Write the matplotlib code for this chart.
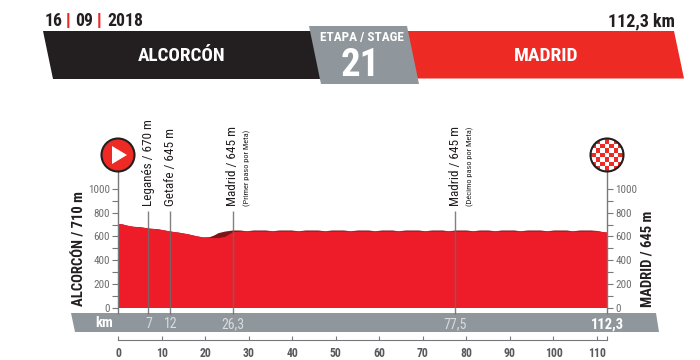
import matplotlib
matplotlib.use("Agg")
import matplotlib.pyplot as plt
from matplotlib.patches import Polygon, Circle

COND = ['Roboto Condensed', 'PT Sans Narrow', 'Liberation Sans', 'DejaVu Sans']
plt.rcParams['font.family'] = COND

# Profile values
km = [0, 1, 2, 3.5, 5, 7, 9, 10.5, 12, 14, 16, 18, 19.5, 21, 22, 23, 24.5, 26.3,
      28, 29.5, 31, 33.9, 35.4, 37, 39.8, 41.4, 43, 45.9, 47.5, 49, 51.8, 53.3, 55, 57.5, 59, 60.5, 63, 64.3, 66,
      69, 70.5, 72, 74.5, 75.8, 77.5, 80, 81.5, 83, 85, 86.6, 88, 91, 92.3, 94, 97, 98.5, 100, 103, 104.3, 106,
      108.5, 110, 111, 112.3]
alt_back = [710, 705, 695, 685, 682, 670, 665, 655, 645, 635, 622, 605, 595, 598, 612, 632, 645, 654,
            654, 647, 654, 654, 647, 654, 654, 647, 654, 654, 647, 654, 654, 647, 654, 654, 647, 654, 654, 647, 654,
            654, 647, 654, 654, 647, 654, 654, 647, 654, 654, 647, 654, 654, 647, 654, 654, 647, 654, 654, 647, 654,
            654, 650, 642, 636]
alt_front = [710, 705, 695, 685, 682, 670, 665, 655, 645, 635, 622, 605, 595, 592, 590, 590, 600, 640,
             646, 647, 646, 646, 647, 646, 646, 647, 646, 646, 647, 646, 646, 647, 646, 646, 647, 646, 646, 647, 646,
             646, 647, 646, 646, 647, 646, 646, 647, 646, 646, 647, 646, 646, 647, 646, 646, 647, 646, 646, 647, 646,
             646, 648, 642, 636]
y_ticks = [0, 200, 400, 600, 800, 1000]
y_minor = [100, 300, 500, 700, 900]
x_ticks = [0, 10, 20, 30, 40, 50, 60, 70, 80, 90, 100, 110]
# Passages: km, label, note
passes_km = [7, 12, 26.3, 77.5]
passes_label = ["Leganés / 670 m", "Getafe / 645 m", "Madrid / 645 m", "Madrid / 645 m"]
passes_note = ["", "", "(Primer paso por Meta)", "(Décimo paso por Meta)"]
passes_km_label = ["7", "12", "26,3", "77,5"]
date_parts = ["16", "09", "2018"]
distance = "112,3 km"
start_city = "ALCORCÓN"
finish_city = "MADRID"
stage = "21"
checker = [[0, 1, 0, 1, 0, 1, 0],
           [1, 0, 1, 0, 1, 0, 1],
           [0, 1, 0, 1, 0, 1, 0],
           [1, 0, 1, 0, 1, 0, 1],
           [0, 1, 0, 1, 0, 1, 0],
           [1, 0, 1, 0, 1, 0, 1],
           [0, 1, 0, 1, 0, 1, 0]]

W, H = 700, 360
RED = "#ee2a24"
FILL = "#ed1c28"
DARK = "#7d1416"
BLACK = "#231f20"
GREY = "#8f979c"
AX = "#77787b"

fig = plt.figure(figsize=(7, 3.6), dpi=100, facecolor="white")

# Page layer in pixel coordinates
bg = fig.add_axes([0, 0, 1, 1], zorder=1)
bg.set_xlim(0, W); bg.set_ylim(H, 0); bg.axis("off")

bg.add_patch(Polygon([(43, 31), (330, 31), (330, 78.5), (53, 78.5)], fc=BLACK, ec="none"))
bg.add_patch(Polygon([(400, 31), (674, 31), (684, 78.5), (400, 78.5)], fc=RED, ec="none"))
bg.add_patch(Polygon([(309, 26), (407, 26), (419, 84), (321, 84)], fc=GREY, ec="none"))
bg.text(181.5, 56, start_city, color="white", fontsize=13.8, fontweight="bold", ha="center", va="center")
bg.text(546, 56, finish_city, color="white", fontsize=14, fontweight="bold", ha="center", va="center")
bg.text(362, 38, "ETAPA / STAGE", color="white", fontsize=9.5, fontweight="bold", ha="center", va="center")
bg.text(360, 66, stage, color="white", fontsize=28, fontweight="bold", ha="center", va="center")

# Date with red separators
bg.text(45, 21, date_parts[0], color=BLACK, fontsize=12.7, fontweight="bold", ha="left", va="center")
bg.text(68, 21, "|", color=RED, fontsize=12, fontweight="bold", ha="center", va="center", family="Liberation Sans")
bg.text(75, 21, date_parts[1], color=BLACK, fontsize=12.7, fontweight="bold", ha="left", va="center")
bg.text(99, 21, "|", color=RED, fontsize=12, fontweight="bold", ha="center", va="center", family="Liberation Sans")
bg.text(107, 21, date_parts[2], color=BLACK, fontsize=12.7, fontweight="bold", ha="left", va="center")
bg.text(674.5, 21, distance, color=BLACK, fontsize=13, fontweight="bold", ha="right", va="center")

# km strip
bg.add_patch(Polygon([(71, 313), (656, 313), (659, 332), (75, 332)], fc=GREY, ec="none"))
bg.text(104, 323, "km", color="white", fontsize=10.5, fontweight="bold", ha="center", va="center")

# Side labels
bg.text(80, 306, start_city + " / 710 m", color=BLACK, fontsize=10.5, fontweight="bold", rotation=90, ha="center", va="bottom")
bg.text(648, 307, finish_city + " / 645 m", color=BLACK, fontsize=10.5, fontweight="bold", rotation=90, ha="center", va="bottom")

# Main profile axes: 0 km at px 118, 112.3 km at px 607; 0 m at px 307.5, 1000 m at px 189
ax = fig.add_axes([118 / W, (H - 307.5) / H, (607 - 118) / W, 118.5 / H], zorder=2)
ax.patch.set_alpha(0)
ax.set_xlim(0, 112.3); ax.set_ylim(0, 1000)
for s in ax.spines.values():
    s.set_visible(False)
ax.fill_between(km, 0, alt_back, color=DARK, lw=0)
ax.fill_between(km, 0, alt_front, color=FILL, lw=0)

# Passage lines
ax.vlines(passes_km, -55, 815, color="#6f6a6a", lw=1, alpha=0.85, clip_on=False)
for x, lab, note in zip(passes_km, passes_label, passes_note):
    ax.annotate(lab, (x, 860), xytext=(0, 0), textcoords="offset points", rotation=90, ha="center", va="bottom",
                fontsize=9.5, color=BLACK, annotation_clip=False)
    if note:
        ax.annotate(note, (x, 860), xytext=(10.5, 0), textcoords="offset points", rotation=90, ha="center", va="bottom",
                    fontsize=6, color=BLACK, annotation_clip=False)
for x, lab in zip(passes_km, passes_km_label):
    ax.annotate(lab, (x, 0), xytext=(0, -12), textcoords="offset points", ha="center", va="center",
                color="#d9dcdd", fontsize=10, annotation_clip=False)
ax.annotate("112,3", (112.3, 0), xytext=(0, -12), textcoords="offset points", ha="center", va="center",
            color="white", fontsize=10.5, fontweight="bold", annotation_clip=False)

# Axis lines, with elevation ticks on both sides
ax.vlines([0, 112.3], -55, 1180, color=AX, lw=1, clip_on=False)
ax.set_xticks([])
ax.set_yticks(y_ticks)
ax.set_yticks(y_minor, minor=True)
ax.tick_params(axis="y", which="both", length=4, width=0.8, color=AX, labelcolor="#6d6e71", labelsize=8, pad=2, left=True, right=True, labelleft=True, labelright=True)
ax.tick_params(axis="y", which="minor", labelleft=False, labelright=False)

# Distance axis
ax2 = fig.add_axes([118 / W, (H - 340) / H, (607 - 118) / W, 1 / H], zorder=2)
ax2.patch.set_alpha(0)
ax2.set_xlim(0, 112.3); ax2.set_yticks([])
for name in ("left", "right", "top"):
    ax2.spines[name].set_visible(False)
ax2.spines["bottom"].set_color(AX)
ax2.set_xticks(x_ticks + [112.3], [str(v) for v in x_ticks] + [""])
ax2.tick_params(axis="x", direction="in", length=3, width=0.8, color=AX, labelcolor="#58595b", labelsize=8.5, pad=5)
for t in ax2.get_xticklabels():
    t.set_fontweight("bold")

# Start and finish badges
fg = fig.add_axes([0, 0, 1, 1], zorder=3)
fg.set_xlim(0, W); fg.set_ylim(H, 0); fg.axis("off")
fg.add_patch(Circle((118, 155), 16.5, fc=RED, ec=BLACK, lw=1.5))
fg.add_patch(Polygon([(112, 146), (112, 164), (127, 155)], fc="white", ec="none"))
clip = Circle((607, 155), 16.5, transform=fg.transData, fc="white", ec="none")
fg.add_patch(clip)
mesh = fg.pcolormesh([591.25 + 4.5 * i for i in range(8)], [139.25 + 4.5 * i for i in range(8)], checker,
                     cmap=matplotlib.colors.ListedColormap(["white", RED]), shading="flat")
mesh.set_clip_path(clip)
fg.add_patch(Circle((607, 155), 16.5, fc="none", ec=BLACK, lw=1.5))
fg.set_xlim(0, W); fg.set_ylim(H, 0)

fig.savefig("out.png", dpi=100)
